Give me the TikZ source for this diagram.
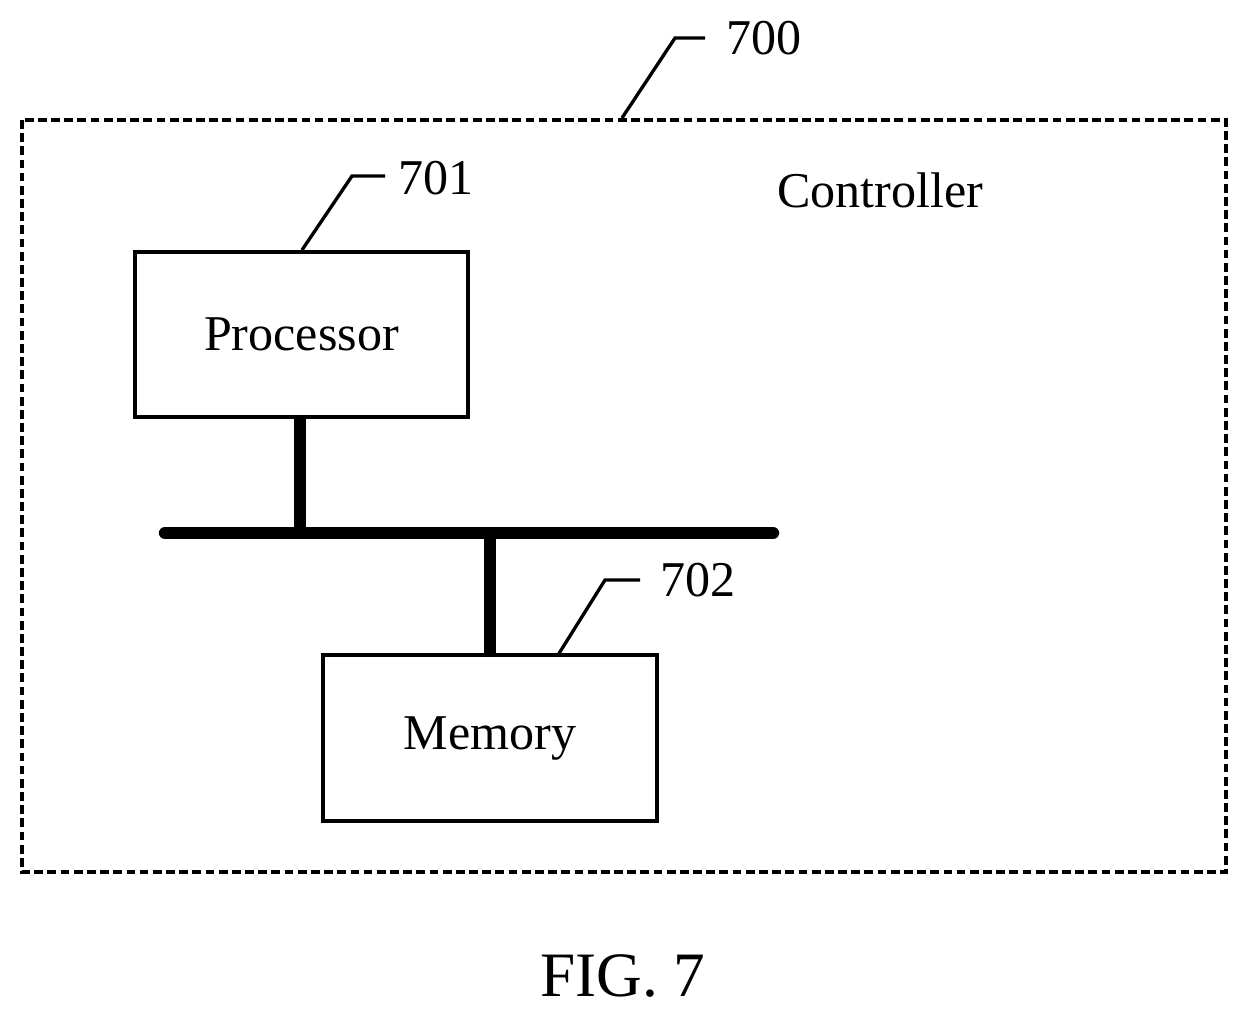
\documentclass[tikz,border=0pt]{standalone}
\usepackage{fontspec}
\setmainfont{Liberation Serif}
\begin{document}
\begin{tikzpicture}[x=0.02cm,y=-0.02cm,
  box/.style={draw,line width=1.9pt,inner sep=0},
  lead/.style={line width=1.9pt},
  lbl/.style={font=\fontsize{28.5}{32}\selectfont},
  bus/.style={line width=7pt}]
\useasboundingbox (0,0) rectangle (1248,1018);
\draw[line width=2.8pt,dash pattern=on 5pt off 2.5pt] (22,120) rectangle (1226,872);
\node[lbl] (c) at (880,190) {Controller};
\coordinate (b700) at (622,118);
\node[lbl] (t700) at (764,38) {700};
\draw[lead] (b700) -- (675,38) -- (705,38);
\node[box,minimum width=333*0.02cm,minimum height=165*0.02cm] (p) at (301.5,334.5) {};
\node[lbl] at (p.center) {Processor};
\node[lbl] (t701) at (436,178) {701};
\draw[lead] (302,250) -- (352,176) -- (385,176);
\node[box,minimum width=334*0.02cm,minimum height=166*0.02cm] (m) at (490,738) {};
\node[lbl] at (m.center) {Memory};
\node[lbl] (t702) at (698,580) {702};
\draw[lead] (558,655) -- (605,580) -- (640,580);
\coordinate (bl) at (165,533);
\coordinate (br) at (773,533);
\draw[bus,line cap=round] (bl) -- (br);
\draw[bus] (p.south -| 300,0) -- (300,533);
\draw[bus] (490,533) -- (m.north);
\node[font=\fontsize{36}{40}\selectfont] (fig) at (623,976) {FIG. 7};
\end{tikzpicture}
\end{document}
